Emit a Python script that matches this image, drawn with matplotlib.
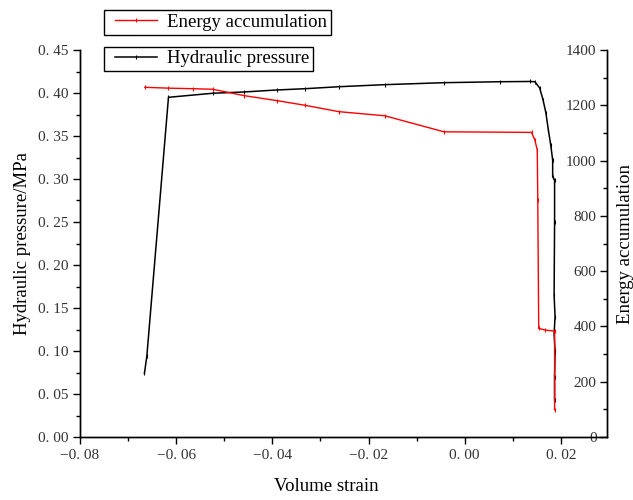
import matplotlib
matplotlib.use("Agg")
import matplotlib.pyplot as plt
from matplotlib.ticker import MultipleLocator, FuncFormatter
from matplotlib.legend_handler import HandlerLine2D

plt.rcParams['font.family'] = ['Liberation Serif', 'DejaVu Serif']

# hydraulic pressure vs volume strain
strain_p = [-0.0666, -0.0661, -0.0616, -0.0524, -0.0459, -0.0391, -0.0332,
            -0.0262, -0.0166, -0.0043, 0.0073, 0.0136, 0.0146, 0.0156,
            0.0163, 0.0169, 0.0174, 0.0179, 0.0183, 0.0183, 0.0187, 0.0187,
            0.0186, 0.0188, 0.0186, 0.0188, 0.0187, 0.0187]
pressure = [0.074, 0.094, 0.395, 0.3997, 0.4012, 0.4035, 0.405,
            0.4073, 0.4097, 0.412, 0.4131, 0.4134, 0.4131, 0.4058,
            0.3919, 0.3767, 0.357, 0.3395, 0.322, 0.3027, 0.2988, 0.25,
            0.165, 0.14, 0.12, 0.10, 0.07, 0.043]

# energy accumulation vs volume strain
strain_e = [-0.0665, -0.0616, -0.0566, -0.0524, -0.0459, -0.0391, -0.0332,
            -0.0262, -0.0166, -0.0043, 0.0139, 0.0146, 0.0151, 0.0152,
            0.0154, 0.0167, 0.0187, 0.0187]
energy = [1265, 1262, 1260, 1258, 1235, 1217, 1200,
          1177, 1162, 1104, 1102, 1074, 1038, 857,
          393, 387, 383, 98]


def fmt_dec(v, pos):
    s = "%.2f" % round(v, 4)
    if s == "-0.00":
        s = "0.00"
    return s.replace('.', '. ').replace('-', '\u2212')


fig = plt.figure(figsize=(6.33, 5), dpi=100)
ax = fig.add_axes([80 / 633, 63 / 500, 527 / 633, 387 / 500])
ax2 = ax.twinx()

lp, = ax.plot(strain_p, pressure, color='black', lw=1.1,
              marker='|', ms=3, mew=0.8, label='Hydraulic pressure')
le, = ax2.plot(strain_e, energy, color='red', lw=1.0,
               marker='|', ms=3, mew=0.8, label='Energy accumulation')

ax.set_xlim(-0.08, 0.0296)
ax.set_ylim(0, 0.45)
ax2.set_ylim(0, 1400)

ax.xaxis.set_major_locator(MultipleLocator(0.02))
ax.xaxis.set_minor_locator(MultipleLocator(0.01))
ax.yaxis.set_major_locator(MultipleLocator(0.05))
ax.yaxis.set_minor_locator(MultipleLocator(0.025))
ax2.yaxis.set_major_locator(MultipleLocator(200))
ax2.yaxis.set_minor_locator(MultipleLocator(100))
ax.xaxis.set_major_formatter(FuncFormatter(fmt_dec))
ax.yaxis.set_major_formatter(FuncFormatter(fmt_dec))

for a in (ax, ax2):
    a.spines['top'].set_visible(False)
    for s in a.spines.values():
        s.set_linewidth(1.0)

ax.tick_params(axis='both', which='major', direction='out', length=5,
               width=1, labelsize=11, colors='black', labelcolor='#333333')
ax.tick_params(axis='both', which='minor', direction='out', length=3, width=1)
ax2.tick_params(axis='y', which='major', direction='in', length=5, width=1,
                labelsize=11, pad=-7.5, labelcolor='#333333')
ax2.tick_params(axis='y', which='minor', direction='in', length=3, width=1)
for t in ax2.yaxis.get_major_ticks():
    t.label2.set_horizontalalignment('right')

ax.set_xlabel('Volume strain', fontsize=13.5)
ax.set_ylabel('Hydraulic pressure/MPa', fontsize=13.5)
ax2.set_ylabel('Energy accumulation', fontsize=13.5)
ax.xaxis.set_label_coords(0.467, -0.105)
ax.yaxis.set_label_coords(-0.093, 0.5)
ax2.yaxis.set_label_coords(1.019, 0.5)

# two separate boxed legends stacked above the axes
leg_kw = dict(loc='upper left', borderaxespad=0, fancybox=False,
              edgecolor='black', framealpha=1, fontsize=13.5,
              handlelength=2.6, borderpad=0.2, handletextpad=0.55,
              handler_map={matplotlib.lines.Line2D: HandlerLine2D(xpad=0.37)})
leg1 = fig.legend(handles=[le], bbox_to_anchor=(104 / 633, 1 - 10 / 500), **leg_kw)
leg2 = fig.legend(handles=[lp], bbox_to_anchor=(104 / 633, 1 - 46.5 / 500), **leg_kw)
for lg in (leg1, leg2):
    lg.get_frame().set_linewidth(1.0)

fig.savefig('out.png', dpi=100)
